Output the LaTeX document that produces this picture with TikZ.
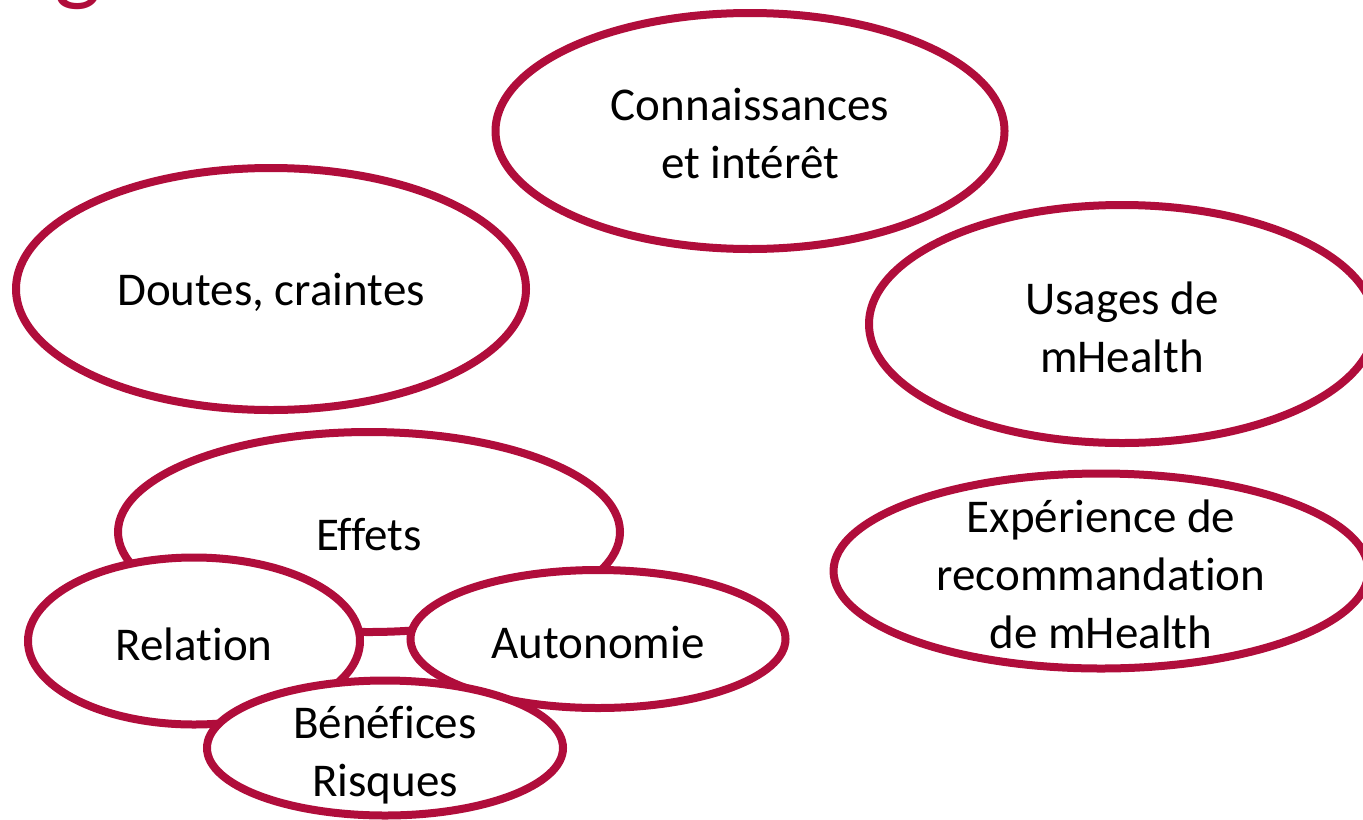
\documentclass[tikz,border=0pt]{standalone}
\usepackage{fontspec}
\setmainfont{Carlito}[Ligatures=NoCommon]
\usepackage{tikz}
\usetikzlibrary{shapes.geometric}
\definecolor{crimson}{RGB}{176,13,59}

\begin{document}
\begin{tikzpicture}[x=0.5pt, y=-0.5pt,
    bubble/.style={ellipse, draw=crimson, line width=4pt, fill=white, inner sep=0pt},
    txt/.style={align=center, yshift=-1.5pt, font=\fontsize{23.5pt}{29pt}\selectfont}]
           \useasboundingbox (0,0) rectangle (1363,819);
           \node[anchor=base west, text=crimson, font=\fontsize{50pt}{60pt}\selectfont, inner sep=0pt] (titre) at (54,-8) {g};
           \node[bubble, minimum width=254.5pt, minimum height=118pt, label={[txt]center:Connaissances\\et intérêt}] (connaissances) at (750,131) {};
           \node[bubble, minimum width=255pt, minimum height=121pt, label={[txt]center:Doutes, craintes}] (doutes) at (271,289) {};
           \node[bubble, minimum width=253pt, minimum height=119pt, label={[txt]center:Usages de\\mHealth}] (usages) at (1122,324) {};
           \node[bubble, minimum width=267.5pt, minimum height=97.5pt, label={[txt]center:Expérience de\\recommandation\\de mHealth}] (experience) at (1101,571) {};
           \node[bubble, minimum width=251pt, minimum height=100pt, label={[txt]center:Effets}] (effets) at (369,532) {};
           \node[bubble, minimum width=166pt, minimum height=83.5pt, label={[txt]center:Relation}] (relation) at (194,641) {};
           \node[bubble, minimum width=187.5pt, minimum height=69pt, label={[txt]center:Autonomie}] (autonomie) at (598,639) {};
           \node[bubble, minimum width=178pt, minimum height=67.5pt, label={[txt, yshift=-2pt]center:Bénéfices\\Risques}] (benefices) at (385,748) {};
\end{tikzpicture}
\end{document}
